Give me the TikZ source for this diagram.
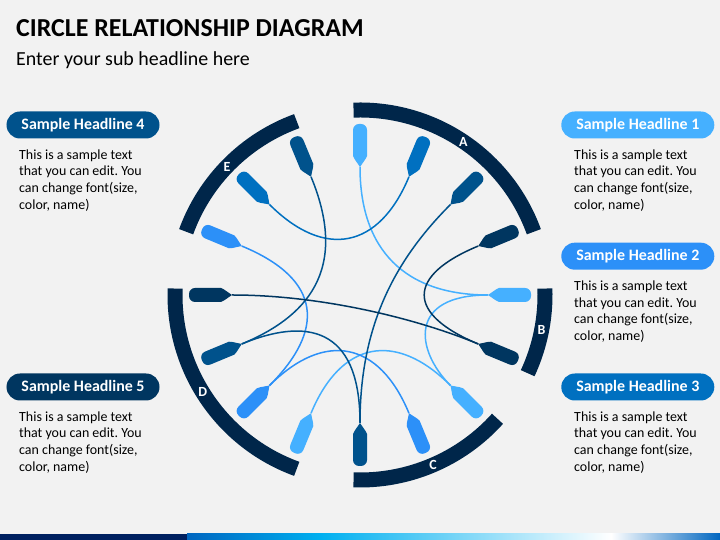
\documentclass[tikz,border=0pt]{standalone}
\usepackage{fontspec}
\setmainfont{Carlito}
\usepackage{xcolor}
\usepackage{tikz}
\definecolor{bggray}{RGB}{242,242,242}
\definecolor{ringnavy}{RGB}{0,38,74}
\definecolor{pinnavy}{RGB}{0,54,96}
\definecolor{pindark}{RGB}{0,82,140}
\definecolor{pinmid}{RGB}{0,112,192}
\definecolor{pinbright}{RGB}{44,144,248}
\definecolor{pinlight}{RGB}{69,176,255}
\definecolor{barnavy}{RGB}{0,32,96}
\definecolor{barblue}{RGB}{0,102,192}
\definecolor{barcyan}{RGB}{0,176,240}
\frenchspacing

\begin{document}
\begin{tikzpicture}[x=1bp,y=1bp,
  headline/.style={fill=#1, text=white, rounded corners=13.5bp, minimum width=153bp, minimum height=27bp, inner sep=0pt, font=\bfseries\fontsize{16}{19}\selectfont},
  bodytext/.style={anchor=base west, align=left, inner sep=0pt, font=\fontsize{14}{16.8}\selectfont},
  ringlabel/.style={text=white, inner sep=0pt, font=\bfseries\fontsize{14}{16}\selectfont},
  link/.style={line width=1.5bp, #1}]
% Background
\fill[bggray] (0,0) rectangle (720,540);
\useasboundingbox (0,0) rectangle (720,540);
% Title and sub headline
\node[anchor=base west, inner sep=0pt, font=\bfseries\fontsize{26}{30}\selectfont] (title) at (16,503.3) {CIRCLE RELATIONSHIP DIAGRAM};
\node[anchor=base west, inner sep=0pt, font=\fontsize{20}{24}\selectfont] (subtitle) at (16,474.3) {Enter your sub headline here};

\begin{scope}[shift={(360,245)}]
% Outer ring segments
\draw[ringnavy, line width=15bp] (20:185) arc[start angle=20, end angle=92, radius=185];
\draw[ringnavy, line width=15bp] (-25:185) arc[start angle=-25, end angle=2, radius=185];
\draw[ringnavy, line width=15bp] (-92:185) arc[start angle=-92, end angle=-42, radius=185];
\draw[ringnavy, line width=15bp] (178:185) arc[start angle=178, end angle=250, radius=185];
\draw[ringnavy, line width=15bp] (110:185) arc[start angle=110, end angle=160, radius=185];
% Ring letters
\node[ringlabel] (labA) at (56:185) {A};
\node[ringlabel] (labB) at (-11:185) {B};
\node[ringlabel] (labC) at (-66.7:185) {C};
\node[ringlabel] (labD) at (211.8:185) {D};
\node[ringlabel] (labE) at (136:185) {E};
% Pins, clockwise from the top
\foreach \col [count=\i] in {pinlight,pinmid,pindark,pinnavy,pinlight,pinnavy,pinlight,pinbright,pindark,pinlight,pinbright,pindark,pinnavy,pinbright,pinmid,pindark} {
  \pgfmathsetmacro{\ang}{112.5-22.5*\i}
  \fill[\col, rotate=\ang] (128,0) -- (136,5.5) -- (139,7) [rounded corners=6bp] -- (171,7) -- (171,-7) [sharp corners] -- (139,-7) -- (136,-5.5) -- cycle;
  \coordinate (tip\i) at (\ang:128);
}
% Links between pins
\draw[link=pinlight] (tip1) .. controls (90:45) and (0:45) .. (tip5);
\draw[link=pinlight] (tip5) .. controls (0:48) and (-45:78) .. (tip7);
\draw[link=pinlight] (tip10) .. controls (-112.5:50) and (-45:50) .. (tip7);
\draw[link=pinmid] (tip2) .. controls (67.5:50) and (135:50) .. (tip15);
\draw[link=pinbright] (tip14) .. controls (157.5:40) and (-135:50) .. (tip11);
\draw[link=pinbright] (tip11) .. controls (-135:50) and (-67.5:50) .. (tip8);
\draw[link=pindark] (tip16) .. controls (112.5:25) and (-157.5:60) .. (tip12);
\draw[link=pindark] (tip12) .. controls (-157.5:60) and (-90:30) .. (tip9);
\draw[link=pindark] (tip3) .. controls (45:50) and (-90:30) .. (tip9);
\draw[link=pinnavy] (tip13) .. controls (180:40) and (-22.5:60) .. (tip6);
\draw[link=pinnavy] (tip4) .. controls (22.5:50) and (-22.5:50) .. (tip6);
\end{scope}

% Headlines, right side (text anchored at its last baseline)
\node[headline=pinlight] (hl1) at (637.8,415) {Sample Headline 1};
\node[bodytext] (txt1) at (574,330.6) {This is a sample text\\that you can edit. You\\can change font(size,\\color, name)};
\node[headline=pinbright] (hl2) at (637.8,283.8) {Sample Headline 2};
\node[bodytext] (txt2) at (574,199.4) {This is a sample text\\that you can edit. You\\can change font(size,\\color, name)};
\node[headline=pinmid] (hl3) at (637.8,153) {Sample Headline 3};
\node[bodytext] (txt3) at (574,68.6) {This is a sample text\\that you can edit. You\\can change font(size,\\color, name)};
% Headlines, left side
\node[headline=pindark] (hl4) at (83,415) {Sample Headline 4};
\node[bodytext] (txt4) at (19,330.6) {This is a sample text\\that you can edit. You\\can change font(size,\\color, name)};
\node[headline=pinnavy] (hl5) at (83,153) {Sample Headline 5};
\node[bodytext] (txt5) at (19,68.6) {This is a sample text\\that you can edit. You\\can change font(size,\\color, name)};

% Bottom colour bar
\fill[barnavy] (0,0) rectangle (187,6);
\shade[left color=barblue, right color=barcyan] (187,0) rectangle (321,6);
\shade[left color=barcyan, right color=white] (321,0) rectangle (611,6);
\shade[left color=white, right color=barblue] (611,0) rectangle (720,6);
\end{tikzpicture}
\end{document}
